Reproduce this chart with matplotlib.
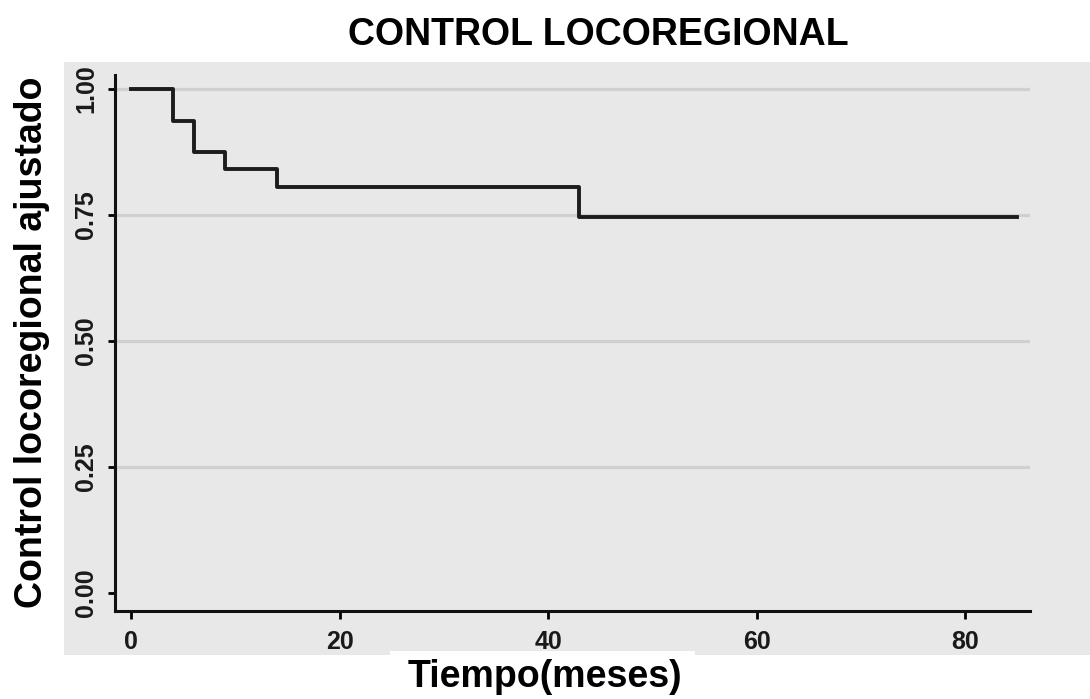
import matplotlib.pyplot as plt
from matplotlib.patches import Rectangle

# Kaplan-Meier steps
tiempo = [0, 4, 6, 9, 14, 43, 85]
control = [1.00, 0.9375, 0.875, 0.841, 0.806, 0.746, 0.746]

xticks = [0, 20, 40, 60, 80]
yticks = [0.00, 0.25, 0.50, 0.75, 1.00]
ytick_labels = ['0.00', '0.25', '0.50', '0.75', '1.00']

W, H = 1090, 699
fig = plt.figure(figsize=(W / 100, H / 100), dpi=100)
fig.patch.set_facecolor('white')

# gray panel behind the plot (stata style background)
fig.patches.append(Rectangle((64 / W, 1 - 655 / H), (W - 64) / W, (655 - 62) / H,
                             transform=fig.transFigure, facecolor='#e8e8e8',
                             edgecolor='none', zorder=-2))
# white box under the x label
fig.patches.append(Rectangle((390 / W, 0), (695 - 390) / W, 1 - 651 / H,
                             transform=fig.transFigure, facecolor='white',
                             edgecolor='none', zorder=-1))

ax = fig.add_axes([115 / W, 1 - 611 / H, (1030 - 115) / W, (611 - 75) / H])
ax.set_facecolor('none')
ax.set_xlim(-1.53, 86.2)
ax.set_ylim(-0.036, 1.028)

for y in yticks[1:]:
    ax.axhline(y, color='#d0d0d0', lw=2.3, zorder=1)

ax.step(tiempo, control, where='post', color='#1c1c1c', lw=2.8, zorder=3)

ax.spines['top'].set_visible(False)
ax.spines['right'].set_visible(False)
ax.spines['left'].set_linewidth(2.2)
ax.spines['bottom'].set_linewidth(2.2)
ax.spines['left'].set_color('#111111')
ax.spines['bottom'].set_color('#111111')

ax.set_xticks(xticks)
ax.set_xticklabels([str(x) for x in xticks], fontsize=18, fontweight='bold',
                   family='Liberation Sans', color='#1a1a1a')
ax.set_yticks(yticks)
ax.set_yticklabels(ytick_labels, fontsize=18, fontweight='bold', rotation=90,
                   va='center', family='Liberation Sans', color='#1a1a1a')
ax.tick_params(axis='x', length=6, width=2, pad=8)
ax.tick_params(axis='y', length=5, width=2, pad=7)

fig.text(598 / W, 1 - 35 / H, 'CONTROL LOCOREGIONAL', ha='center', va='center',
         fontsize=27, fontweight='bold', family='Liberation Sans')
fig.text(32 / W, 1 - 342 / H, 'Control locoregional ajustado', ha='center', va='center',
         rotation=90, fontsize=27, fontweight='bold', family='Liberation Sans')
fig.text(545 / W, 1 - 677 / H, 'Tiempo(meses)', ha='center', va='center',
         fontsize=27, fontweight='bold', family='Liberation Sans', zorder=5)

fig.savefig('out.png', dpi=100)
